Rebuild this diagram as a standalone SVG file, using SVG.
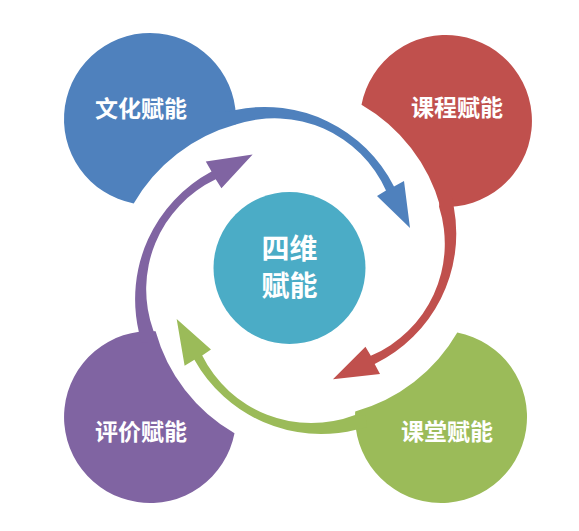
<svg xmlns="http://www.w3.org/2000/svg" width="579" height="531" viewBox="0 0 579 531">
<style>
.blue{fill:#4F81BD}.red{fill:#C0504D}.green{fill:#9BBB59}.purple{fill:#8064A2}.teal{fill:#4BACC6}
.lbl{fill:#fff;font-family:"Noto Sans CJK SC","Noto Sans",sans-serif;font-weight:bold;font-size:23px;text-anchor:middle}
.ctr{font-size:28px}
</style>
<defs>
<path id="petal" d="M133.7,203.5 A86,86 0 1 1 235.8,124.6 A170,170 0 0 0 133.7,203.5 Z"/>
<path id="tail" d="M225,112 L235.5,109.9 A145,145 0 0 1 394,186.5 L404,181 L410,228 L377,196 L386,190.5 A122,122 0 0 0 235.8,124.6 L225,124 Z"/>
</defs>
<rect width="579" height="531" fill="#fff"/>
<g id="culture"><use href="#petal" class="blue"/><text class="lbl" x="141" y="117">文化赋能</text></g>
<g id="course"><use href="#petal" class="red" transform="rotate(90 297 268)"/><text class="lbl" x="457" y="116">课程赋能</text></g>
<g id="classroom"><use href="#petal" class="green" transform="translate(-3 0) rotate(180 297 268)"/><text class="lbl" x="447" y="440">课堂赋能</text></g>
<g id="evaluation"><use href="#petal" class="purple" transform="translate(2 2) rotate(270 297 268)"/><text class="lbl" x="141" y="440">评价赋能</text></g>
<g id="connectors">
<use href="#tail" class="blue"/>
<use href="#tail" class="red" transform="rotate(0.9 446 121) rotate(90 297 268)"/>
<use href="#tail" class="green" transform="rotate(-2.4 441 417) translate(-3 0) rotate(180 297 268)"/>
<use href="#tail" class="purple" transform="rotate(-1.4 150 417) translate(2 2) rotate(270 297 268)"/>
</g>
<g id="center"><circle class="teal" cx="289.5" cy="268" r="76"/><text class="lbl ctr" x="289.5" y="259">四维</text><text class="lbl ctr" x="289.5" y="296">赋能</text></g>
</svg>
